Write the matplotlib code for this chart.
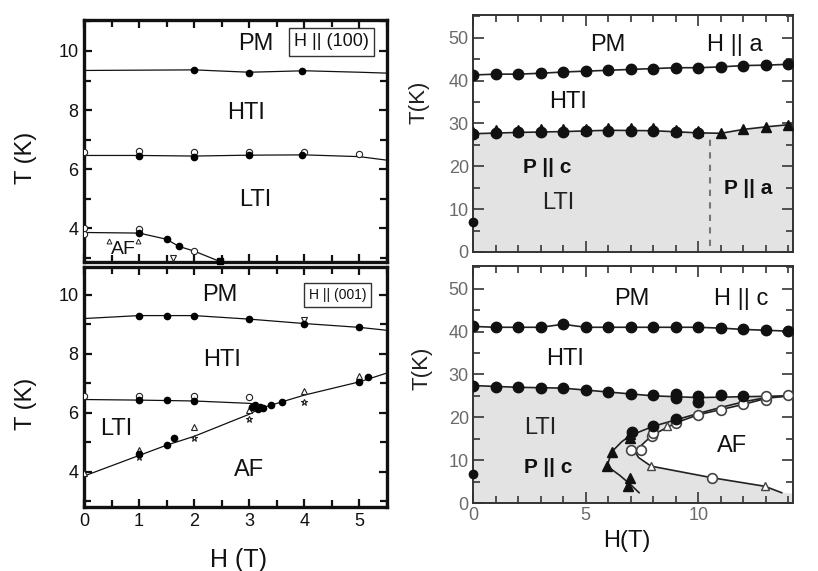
import matplotlib
matplotlib.use("Agg")
import matplotlib.pyplot as plt
from matplotlib.ticker import MultipleLocator, NullFormatter

plt.rcParams['font.family'] = ['Liberation Sans', 'DejaVu Sans']

# ---------------- data: left top, H || (100) ----------------
a100_pm_line_H = [0, 1, 2, 3, 4, 5, 5.5]
a100_pm_line_T = [9.34, 9.35, 9.36, 9.28, 9.33, 9.28, 9.25]
a100_pm_pts_H = [2, 3, 3.95]
a100_pm_pts_T = [9.36, 9.27, 9.33]
a100_tl_line_H = [0, 1, 2, 3, 4, 5, 5.5]
a100_tl_line_T = [6.46, 6.46, 6.44, 6.47, 6.48, 6.42, 6.3]
a100_tl_fill_H = [1, 2, 3, 3.95]
a100_tl_fill_T = [6.45, 6.4, 6.47, 6.47]
a100_tl_open_H = [0, 1, 2, 3, 4, 5]
a100_tl_open_T = [6.58, 6.6, 6.57, 6.58, 6.58, 6.5]
a100_af_line_H = [0, 1, 1.5, 1.72, 2.0, 2.45]
a100_af_line_T = [3.85, 3.83, 3.62, 3.38, 3.22, 2.88]
a100_af_fill_H = [1, 1.5, 1.72]
a100_af_fill_T = [3.82, 3.62, 3.38]
a100_af_open_H = [0, 0, 1, 2.0]
a100_af_open_T = [3.8, 4.0, 3.98, 3.22]
a100_tri_H = [0.45, 0.98]
a100_tri_T = [3.55, 3.55]
a100_dtri_H = [1.62]
a100_dtri_T = [2.98]
a100_sq_H = [2.47]
a100_sq_T = [2.87]

# ---------------- data: left bottom, H || (001) ----------------
a001_pm_line_H = [0, 1, 1.5, 2, 3, 4, 5, 5.5]
a001_pm_line_T = [9.2, 9.3, 9.3, 9.3, 9.18, 9.03, 8.9, 8.8]
a001_pm_pts_H = [1, 1.5, 2, 3, 4, 5]
a001_pm_pts_T = [9.3, 9.3, 9.3, 9.18, 9.03, 8.9]
a001_pm_dtri_H = [4]
a001_pm_dtri_T = [9.15]
a001_tl_line_H = [0, 1, 2, 3, 3.15]
a001_tl_line_T = [6.45, 6.43, 6.4, 6.32, 6.28]
a001_tl_fill_H = [1, 1.5, 2]
a001_tl_fill_T = [6.42, 6.42, 6.4]
a001_tl_open_H = [0, 1, 2, 3]
a001_tl_open_T = [6.57, 6.58, 6.58, 6.55]
a001_af_line_H = [0, 1, 1.5, 2, 3, 3.2, 4, 5, 5.5]
a001_af_line_T = [3.85, 4.55, 4.9, 5.2, 5.95, 6.15, 6.6, 7.05, 7.35]
a001_af_fill_H = [1, 1.5, 1.63, 3.05, 3.1, 3.15, 3.2, 3.25, 3.4, 3.6, 5.0, 5.15]
a001_af_fill_T = [4.6, 4.9, 5.15, 6.2, 6.28, 6.12, 6.2, 6.15, 6.25, 6.35, 7.05, 7.2]
a001_af_tri_H = [0, 1, 2, 3, 4, 5]
a001_af_tri_T = [3.95, 4.75, 5.5, 6.1, 6.75, 7.25]
a001_af_star_H = [1, 2, 3, 4]
a001_af_star_T = [4.5, 5.15, 5.8, 6.35]

# ---------------- data: right top, H || a ----------------
ha_H = [0, 1, 2, 3, 4, 5, 6, 7, 8, 9, 10, 11, 12, 13, 14]
ha_TN = [41.3, 41.5, 41.5, 41.7, 42.0, 42.2, 42.4, 42.6, 42.8, 43.0, 43.0, 43.2, 43.5, 43.6, 43.8]
ha_TL_circ_H = [0, 1, 2, 3, 4, 5, 6, 7, 8, 9, 10]
ha_TL_circ_T = [27.5, 27.8, 27.9, 28.0, 28.0, 28.2, 28.3, 28.3, 28.3, 28.0, 27.8]
ha_TL_tri_H = [0, 1, 2, 3, 4, 5, 6, 7, 8, 9, 10, 11, 12, 13, 14]
ha_TL_tri_T = [28.1, 28.4, 28.5, 28.6, 28.6, 28.8, 28.9, 28.9, 28.9, 28.5, 28.2, 27.7, 28.6, 29.2, 29.7]
ha_TL_line_H = [0, 2, 4, 6, 8, 10, 11, 12, 13, 14, 14.2]
ha_TL_line_T = [27.6, 27.9, 28.1, 28.4, 28.3, 27.8, 27.7, 28.6, 29.2, 29.7, 29.8]
ha_low_H = [0]
ha_low_T = [7.0]
ha_dash_H = [10.5, 10.5]
ha_dash_T = [1.5, 27.5]

# ---------------- data: right bottom, H || c ----------------
hc_H = [0, 1, 2, 3, 4, 5, 6, 7, 8, 9, 10, 11, 12, 13, 14]
hc_TN = [41.2, 41.0, 41.0, 41.0, 41.7, 41.0, 41.0, 41.0, 41.0, 41.0, 41.0, 40.8, 40.5, 40.3, 40.1]
hc_TL_fill_H = [0, 1, 2, 3, 4, 5, 6, 7, 8, 9, 9, 10, 10, 11, 12]
hc_TL_fill_T = [27.4, 27.0, 27.0, 26.8, 26.8, 26.3, 25.9, 25.4, 25.1, 24.6, 25.5, 23.6, 25.0, 25.2, 25.0]
hc_TL_line_H = [0, 2, 4, 6, 8, 10, 12, 14, 14.2]
hc_TL_line_T = [27.4, 27.0, 26.8, 25.9, 25.0, 24.6, 24.8, 25.0, 25.0]
hc_tri_fill_H = [5.95, 6.15, 6.95, 6.95, 6.95, 6.9]
hc_tri_fill_T = [8.6, 11.9, 15.2, 16.0, 5.8, 3.9]
hc_circ_fill_H = [7.05, 8.0, 9.0]
hc_circ_fill_T = [16.5, 17.9, 19.5]
hc_left_line_H = [7.37, 6.95, 6.5, 5.95, 6.15, 6.6, 7.0, 8.0, 9.0, 10.0, 11.0, 12.0, 13.0, 14.0]
hc_left_line_T = [2.4, 4.5, 6.5, 8.6, 11.9, 14.3, 15.8, 17.9, 19.4, 20.9, 22.3, 23.6, 24.6, 25.0]
hc_open_line_H = [13.7, 12.95, 10.6, 7.9, 7.35, 7.2, 7.44, 7.95, 9.0, 10.0, 11.0, 12.0, 13.0, 14.0]
hc_open_line_T = [2.4, 3.9, 5.9, 8.6, 10.6, 11.8, 13.3, 15.8, 18.7, 20.6, 21.8, 23.0, 24.4, 25.0]
hc_af_poly_H = [14.2, 13.7, 12.95, 10.6, 7.9, 7.35, 7.2, 7.44, 7.95, 9.0, 10.0, 11.0, 12.0, 13.0, 14.0, 14.2]
hc_af_poly_T = [2.2, 2.4, 3.9, 5.9, 8.6, 10.6, 11.8, 13.3, 15.8, 18.7, 20.6, 21.8, 23.0, 24.4, 25.0, 25.0]
hc_open_circ_H = [7.0, 7.44, 7.93, 8.0, 9.0, 10.0, 11.0, 12.0, 13.0, 13.0, 14.0, 10.6]
hc_open_circ_T = [12.3, 12.3, 15.6, 16.4, 18.7, 20.6, 21.8, 23.0, 24.1, 24.9, 25.1, 5.9]
hc_open_tri_H = [7.9, 8.6, 12.95]
hc_open_tri_T = [8.6, 17.9, 3.9]
hc_low_H = [0]
hc_low_T = [6.8]

# ---------------- figure ----------------
W, Hh = 818, 571
fig = plt.figure(figsize=(W / 100, Hh / 100), dpi=100)

def ax_px(x0, y0, x1, y1):
    return fig.add_axes([x0 / W, 1 - y1 / Hh, (x1 - x0) / W, (y1 - y0) / Hh])

axTL = ax_px(84, 20, 387, 262)
axBL = ax_px(84, 267, 387, 507)
axTR = ax_px(473, 15, 793, 252)
axBR = ax_px(473, 266, 793, 503)

def style_left(ax, show_x):
    ax.set_xlim(0, 5.5)
    ax.xaxis.set_major_locator(MultipleLocator(1))
    ax.xaxis.set_minor_locator(MultipleLocator(0.5))
    ax.yaxis.set_major_locator(MultipleLocator(2))
    ax.yaxis.set_minor_locator(MultipleLocator(1))
    ax.tick_params(which='both', direction='in', top=True, right=True,
                   width=1.6, colors='#111', labelsize=13, pad=4)
    ax.tick_params(which='major', length=6)
    ax.tick_params(which='minor', length=5)
    for s in ax.spines.values():
        s.set_linewidth(2.4)
        s.set_color('#111')
    if not show_x:
        ax.xaxis.set_major_formatter(NullFormatter())
    ax.set_ylabel('T (K)', fontsize=17, color='#111')
    ax.yaxis.set_label_coords(-0.155, 0.43)

def style_right(ax, show_x):
    ax.set_xlim(0, 14.2)
    ax.set_ylim(0, 55.3)
    ax.xaxis.set_major_locator(MultipleLocator(5))
    ax.xaxis.set_minor_locator(MultipleLocator(1))
    ax.yaxis.set_major_locator(MultipleLocator(10))
    ax.yaxis.set_minor_locator(MultipleLocator(5))
    ax.tick_params(which='both', direction='in', top=True, right=True,
                   width=1.3, color='#444', labelcolor='#6a6a6a', labelsize=13, pad=3)
    ax.tick_params(which='major', length=8)
    ax.tick_params(which='minor', length=5)
    for s in ax.spines.values():
        s.set_linewidth(1.4)
        s.set_color('#333')
    ax.set_yticks([0, 10, 20, 30, 40, 50])
    if not show_x:
        ax.xaxis.set_major_formatter(NullFormatter())
    ax.set_ylabel('T(K)', fontsize=16, color='#222', labelpad=0)

lk = dict(color='#111', lw=0.9, zorder=2)
fk = dict(ls='none', marker='o', color='#000', ms=4.5, zorder=4)
ok = dict(ls='none', mfc='white', mec='#222', mew=0.8, ms=4.5, zorder=3)

# ---- top-left ----
ax = axTL
style_left(ax, False)
ax.set_ylim(2.85, 11.05)
ax.plot(a100_pm_line_H, a100_pm_line_T, **lk)
ax.plot(a100_pm_pts_H, a100_pm_pts_T, **fk)
ax.plot(a100_tl_line_H, a100_tl_line_T, **lk)
ax.plot(a100_tl_open_H, a100_tl_open_T, marker='o', **ok)
ax.plot(a100_tl_fill_H, a100_tl_fill_T, **fk)
ax.plot(a100_af_line_H, a100_af_line_T, **lk)
ax.plot(a100_af_open_H, a100_af_open_T, marker='o', **ok)
ax.plot(a100_af_fill_H, a100_af_fill_T, **fk)
ax.plot(a100_tri_H, a100_tri_T, marker='^', ls='none', mfc='white', mec='#222', mew=0.7, ms=3.5, zorder=3)
ax.plot(a100_dtri_H, a100_dtri_T, marker='v', ls='none', mfc='white', mec='#222', mew=0.8, ms=4.5, zorder=3)
ax.plot(a100_sq_H, a100_sq_T, marker='s', ls='none', color='#000', ms=4, zorder=4, clip_on=False)
ax.text(3.12, 10.25, 'PM', fontsize=17, ha='center', va='center', color='#111')
ax.text(2.95, 7.9, 'HTI', fontsize=17, ha='center', va='center', color='#111')
ax.text(3.1, 4.95, 'LTI', fontsize=17, ha='center', va='center', color='#111')
ax.text(0.72, 3.28, 'AF', fontsize=14, ha='center', va='center', color='#111')
ax.text(4.49, 10.31, 'H || (100)', fontsize=13, ha='center', va='center', color='#111',
        bbox=dict(boxstyle='square,pad=0.3', fc='white', ec='#333', lw=1.0))

# ---- bottom-left ----
ax = axBL
style_left(ax, True)
ax.set_ylim(2.8, 10.95)
ax.set_xlabel('H (T)', fontsize=18, color='#111')
ax.xaxis.set_label_coords(0.51, -0.17)
ax.plot(a001_pm_line_H, a001_pm_line_T, **lk)
ax.plot(a001_pm_pts_H, a001_pm_pts_T, **fk)
ax.plot(a001_pm_dtri_H, a001_pm_dtri_T, marker='v', **ok)
ax.plot(a001_tl_line_H, a001_tl_line_T, **lk)
ax.plot(a001_tl_open_H, a001_tl_open_T, marker='o', **ok)
ax.plot(a001_tl_fill_H, a001_tl_fill_T, **fk)
ax.plot(a001_af_line_H, a001_af_line_T, **lk)
ax.plot(a001_af_tri_H, a001_af_tri_T, marker='^', **ok)
ax.plot(a001_af_star_H, a001_af_star_T, marker='*', **ok)
ax.plot(a001_af_fill_H, a001_af_fill_T, **fk)
ax.text(2.47, 10.0, 'PM', fontsize=17, ha='center', va='center', color='#111')
ax.text(2.5, 7.8, 'HTI', fontsize=17, ha='center', va='center', color='#111')
ax.text(0.58, 5.45, 'LTI', fontsize=17, ha='center', va='center', color='#111')
ax.text(3.0, 4.05, 'AF', fontsize=17, ha='center', va='center', color='#111')
ax.text(4.6, 9.99, 'H || (001)', fontsize=10, ha='center', va='center', color='#111',
        bbox=dict(boxstyle='square,pad=0.35', fc='white', ec='#333', lw=1.0))

# ---- right styles ----
rlk = dict(color='#222', lw=1.2, zorder=2)
rfk = dict(ls='none', marker='o', color='#111', ms=7.5, zorder=4)
shade = '#e3e3e3'

# ---- top-right ----
ax = axTR
style_right(ax, False)
ax.yaxis.set_label_coords(-0.135, 0.63)
ax.fill_between(ha_TL_line_H, 0, ha_TL_line_T, color=shade, lw=0, zorder=0)
ax.plot(ha_H, ha_TN, **rlk)
ax.plot(ha_H, ha_TN, **rfk)
ax.plot(ha_TL_line_H, ha_TL_line_T, **rlk)
ax.plot(ha_TL_tri_H, ha_TL_tri_T, ls='none', marker='^', color='#111', ms=6.5, zorder=4)
ax.plot(ha_TL_circ_H, ha_TL_circ_T, **rfk)
ax.plot(ha_low_H, ha_low_T, ls='none', marker='o', color='#111', ms=6, zorder=4, clip_on=False)
ax.plot(ha_dash_H, ha_dash_T, color='#777', lw=1.5, ls=(0, (3, 3)), zorder=1)
ax.text(6.0, 48.3, 'PM', fontsize=17, ha='center', va='center', color='#111')
ax.text(11.6, 48.3, 'H || a', fontsize=17, ha='center', va='center', color='#111')
ax.text(4.2, 35.0, 'HTI', fontsize=17, ha='center', va='center', color='#111')
ax.text(3.3, 19.8, 'P || c', fontsize=15, fontweight='bold', ha='center', va='center', color='#111')
ax.text(3.8, 11.5, 'LTI', fontsize=17, ha='center', va='center', color='#222')
ax.text(12.2, 14.8, 'P || a', fontsize=15, fontweight='bold', ha='center', va='center', color='#111')

# ---- bottom-right ----
ax = axBR
style_right(ax, True)
ax.yaxis.set_label_coords(-0.128, 0.57)
ax.set_xlabel('H(T)', fontsize=17, color='#111', labelpad=0)
ax.xaxis.set_label_coords(0.48, -0.115)
ax.fill_between(hc_TL_line_H, 0, hc_TL_line_T, color=shade, lw=0, zorder=0)
ax.fill(hc_af_poly_H, hc_af_poly_T, color='white', lw=0, zorder=0.5)
ax.plot(hc_H, hc_TN, **rlk)
ax.plot(hc_H, hc_TN, **rfk)
ax.plot(hc_TL_line_H, hc_TL_line_T, **rlk)
ax.plot(hc_TL_fill_H, hc_TL_fill_T, **rfk)
ax.plot(hc_left_line_H, hc_left_line_T, **rlk)
ax.plot(hc_open_line_H, hc_open_line_T, **rlk)
ax.plot(hc_tri_fill_H, hc_tri_fill_T, ls='none', marker='^', color='#111', ms=7, zorder=4)
ax.plot(hc_circ_fill_H, hc_circ_fill_T, **rfk)
ax.plot(hc_open_circ_H, hc_open_circ_T, ls='none', marker='o', mfc='white', mec='#444', mew=1.2, ms=7, zorder=3)
ax.plot(hc_open_tri_H, hc_open_tri_T, ls='none', marker='^', mfc='white', mec='#444', mew=1.0, ms=6, zorder=3)
ax.plot(hc_low_H, hc_low_T, ls='none', marker='o', color='#111', ms=6, zorder=4, clip_on=False)
ax.text(7.05, 47.5, 'PM', fontsize=17, ha='center', va='center', color='#111')
ax.text(11.9, 47.5, 'H || c', fontsize=17, ha='center', va='center', color='#111')
ax.text(4.1, 33.5, 'HTI', fontsize=17, ha='center', va='center', color='#111')
ax.text(3.0, 17.5, 'LTI', fontsize=17, ha='center', va='center', color='#222')
ax.text(3.35, 8.2, 'P || c', fontsize=15, fontweight='bold', ha='center', va='center', color='#111')
ax.text(11.5, 13.3, 'AF', fontsize=17, ha='center', va='center', color='#111')

fig.savefig('out.png', dpi=100)
